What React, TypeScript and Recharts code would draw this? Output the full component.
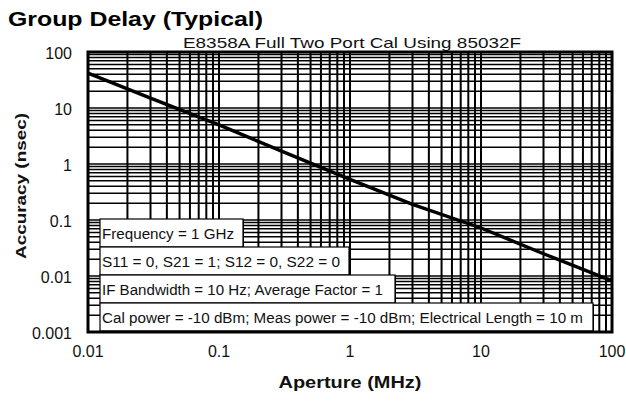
import React from "react";
import { LineChart, Line, XAxis, YAxis, CartesianGrid } from "recharts";

// ---- data ----
const aperture = [0.01, 0.03, 0.1, 0.3, 1, 3, 10, 30, 100];
const accuracy = [42, 15, 5.0, 1.7, 0.53, 0.19, 0.072, 0.025, 0.0082];

const xDecades = [0.01, 0.1, 1, 10, 100];
const xDecadeLabels = ["0.01", "0.1", "1", "10", "100"];
const yDecades = [0.001, 0.01, 0.1, 1, 10, 100];
const yDecadeLabels = ["0.001", "0.01", "0.1", "1", "10", "100"];
const minorMultipliers = [1, 2, 3, 4, 5, 6, 7, 8, 9];

const title = "Group Delay (Typical)";
const subtitle = "E8358A Full Two Port Cal Using 85032F";
const xTitle = "Aperture (MHz)";
const yTitle = "Accuracy (nsec)";
const notes = [
  "Frequency = 1 GHz",
  "S11 = 0, S21 = 1; S12 = 0, S22 = 0",
  "IF Bandwidth = 10 Hz; Average Factor = 1",
  "Cal power = -10 dBm; Meas power = -10 dBm; Electrical Length = 10 m",
];

// ---- layout ----
const W = 626;
const H = 401;
const PL = 88;
const PR = 612;
const PT = 52;
const PB = 332;
const FONT = "'Liberation Sans', Arial, Helvetica, sans-serif";

const buildTicks = (decades: number[]) => {
  const out: number[] = [];
  decades.forEach((d, i) => {
    if (i === decades.length - 1) {
      out.push(d);
    } else {
      minorMultipliers.forEach((m) => out.push(Number((d * m).toPrecision(3))));
    }
  });
  return out;
};
const xTicks = buildTicks(xDecades);
const yTicks = buildTicks(yDecades);

const data = aperture.map((a, i) => ({ aperture: a, accuracy: accuracy[i] }));

const labelFor = (v: number, decades: number[], labels: string[]) => {
  const idx = decades.findIndex((d) => Math.abs(d - v) / d < 1e-6);
  return idx >= 0 ? labels[idx] : null;
};

const XTick = (props: any) => {
  const { x, payload } = props;
  const lbl = labelFor(payload.value, xDecades, xDecadeLabels);
  if (!lbl) return null;
  return (
    <text x={x} y={351} textAnchor="middle" dominantBaseline="central" fontSize={16} fontFamily={FONT} fill="#111">
      {lbl}
    </text>
  );
};

const YTick = (props: any) => {
  const { y, payload } = props;
  const lbl = labelFor(payload.value, yDecades, yDecadeLabels);
  if (!lbl) return null;
  return (
    <text x={72} y={y + 1} textAnchor="end" dominantBaseline="central" fontSize={16} fontFamily={FONT} fill="#111">
      {lbl}
    </text>
  );
};

const boxTops = [219, 247, 275, 303];
const boxRights = [243, 349, 395, 593];
const boxTextLen = [132, 238, 281, 481];
const BOX_LEFT = 100;
const BOX_H = 28;

export default function App() {
  return (
    <div style={{ position: "absolute", left: 0, top: 0, width: W, height: H, background: "#fff" }}>
      <LineChart
        width={W}
        height={H}
        data={data}
        margin={{ top: PT, right: W - PR, bottom: 0, left: 0 }}
      >
        <CartesianGrid horizontal={false} stroke="#000" strokeWidth={2} />
        <CartesianGrid vertical={false} stroke="#000" strokeWidth={1.5} />
        <XAxis
          dataKey="aperture"
          type="number"
          scale="log"
          domain={[0.01, 100]}
          ticks={xTicks}
          interval={0}
          allowDataOverflow
          height={H - PB}
          tickLine={false}
          axisLine={false}
          tick={<XTick />}
        />
        <YAxis
          dataKey="accuracy"
          type="number"
          scale="log"
          domain={[0.001, 100]}
          ticks={yTicks}
          interval={0}
          allowDataOverflow
          width={PL}
          tickLine={false}
          axisLine={false}
          tick={<YTick />}
        />
        <Line
          type="linear"
          dataKey="accuracy"
          stroke="#000"
          strokeWidth={3.4}
          dot={false}
          isAnimationActive={false}
        />
      </LineChart>
      <svg
        width={W}
        height={H}
        style={{ position: "absolute", left: 0, top: 0, pointerEvents: "none" }}
      >
        <text x={8} y={26} fontSize={21} fontWeight="bold" fontFamily={FONT} fill="#000" textLength={255} lengthAdjust="spacingAndGlyphs">
          {title}
        </text>
        <text x={352} y={48} textAnchor="middle" fontSize={15} fontFamily={FONT} fill="#111" textLength={338} lengthAdjust="spacingAndGlyphs">
          {subtitle}
        </text>
        <text
          x={0}
          y={0}
          transform="translate(21,186) rotate(-90)"
          textAnchor="middle"
          dominantBaseline="central"
          fontSize={14}
          fontWeight="bold"
          fontFamily={FONT}
          fill="#111"
          textLength={146}
          lengthAdjust="spacingAndGlyphs"
        >
          {yTitle}
        </text>
        <text x={350} y={382} textAnchor="middle" dominantBaseline="central" fontSize={16} fontWeight="bold" fontFamily={FONT} fill="#111" textLength={143} lengthAdjust="spacingAndGlyphs">
          {xTitle}
        </text>
        {notes.map((n, i) => (
          <g key={i}>
            <rect x={BOX_LEFT + 1} y={boxTops[i] + 1} width={boxRights[i] - BOX_LEFT} height={BOX_H} fill="#000" />
            <rect x={BOX_LEFT} y={boxTops[i]} width={boxRights[i] - BOX_LEFT} height={BOX_H} fill="#fff" stroke="#000" strokeWidth={1.2} />
            <text
              x={BOX_LEFT + 2}
              y={boxTops[i] + BOX_H / 2 + 1}
              dominantBaseline="central"
              fontSize={14}
              fontFamily={FONT}
              fill="#111"
              textLength={boxTextLen[i]}
              lengthAdjust="spacingAndGlyphs"
            >
              {n}
            </text>
          </g>
        ))}
        <rect x={PL} y={PT} width={PR - PL} height={PB - PT} fill="none" stroke="#000" strokeWidth={3} />
      </svg>
    </div>
  );
}
